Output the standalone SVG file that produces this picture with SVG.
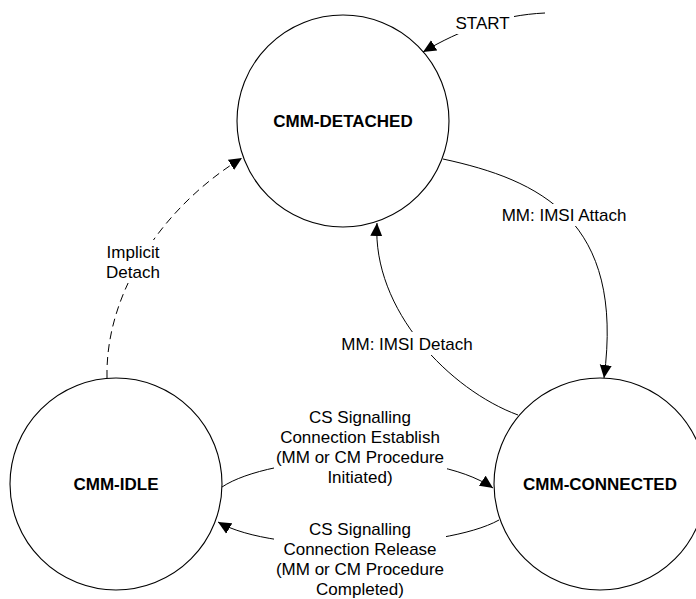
<svg xmlns="http://www.w3.org/2000/svg" width="696" height="599" viewBox="0 0 696 599">
<style>
.state{fill:#fff;stroke:#000;stroke-width:1.1}
.name{font-family:"Liberation Sans",Arial,sans-serif;font-size:17px;font-weight:bold;text-anchor:middle;fill:#000}
.edge{fill:none;stroke:#000;stroke-width:1}
.dash{stroke-dasharray:8 5}
.lbl{font-family:"Liberation Sans",Arial,sans-serif;font-size:17px;text-anchor:middle;fill:#000}
.bg{fill:#fff;stroke:none}
</style>
<defs>
<marker id="arr" markerUnits="userSpaceOnUse" markerWidth="14" markerHeight="13" refX="13" refY="6.5" orient="auto">
<path d="M0,0.5 L13,6.5 L0,12.5 z" fill="#000"/>
</marker>
</defs>
<rect width="696" height="599" fill="#fff"/>
<g id="node-detached">
<circle class="state" cx="343" cy="121" r="106"/>
<text class="name" x="343" y="127">CMM-DETACHED</text>
</g>
<g id="node-idle">
<circle class="state" cx="116" cy="484" r="106"/>
<text class="name" x="116" y="490">CMM-IDLE</text>
</g>
<g id="node-connected">
<circle class="state" cx="600" cy="484" r="106"/>
<text class="name" x="600" y="490">CMM-CONNECTED</text>
</g>
<g id="connectors">
<path class="edge" d="M545,13 C500,15 460,30 423,52" marker-end="url(#arr)"/>
<path class="edge" d="M443,159 C540,180 625,220 604,378" marker-end="url(#arr)"/>
<path class="edge" d="M518,415 C450,390 372,310 377,223" marker-end="url(#arr)"/>
<path class="edge dash" d="M107,378 C105,290 165,205 242,158" marker-end="url(#arr)"/>
<path class="edge" d="M222,487 C270,455 430,445 493,488" marker-end="url(#arr)"/>
<path class="edge" d="M499,520 C445,550 275,555 218,522" marker-end="url(#arr)"/>
<rect class="bg" x="452" y="13" width="62" height="21"/>
<text class="lbl" x="482.5" y="29">START</text>
<rect class="bg" x="500" y="204" width="128" height="22"/>
<text class="lbl" x="564" y="221">MM: IMSI Attach</text>
<rect class="bg" x="341" y="332" width="133" height="23"/>
<text class="lbl" x="407" y="350">MM: IMSI Detach</text>
<rect class="bg" x="105" y="240" width="56" height="43"/>
<text class="lbl" x="133" y="257.7">Implicit</text>
<text class="lbl" x="133" y="277.7">Detach</text>
<rect class="bg" x="274" y="406" width="173" height="81"/>
<text class="lbl" x="360" y="422.7">CS Signalling</text>
<text class="lbl" x="360" y="442.7">Connection Establish</text>
<text class="lbl" x="360" y="462.7">(MM or CM Procedure</text>
<text class="lbl" x="360" y="482.7">Initiated)</text>
<rect class="bg" x="274" y="519" width="172" height="80"/>
<text class="lbl" x="360" y="535">CS Signalling</text>
<text class="lbl" x="360" y="555">Connection Release</text>
<text class="lbl" x="360" y="575">(MM or CM Procedure</text>
<text class="lbl" x="360" y="594.8">Completed)</text>
</g>
</svg>
